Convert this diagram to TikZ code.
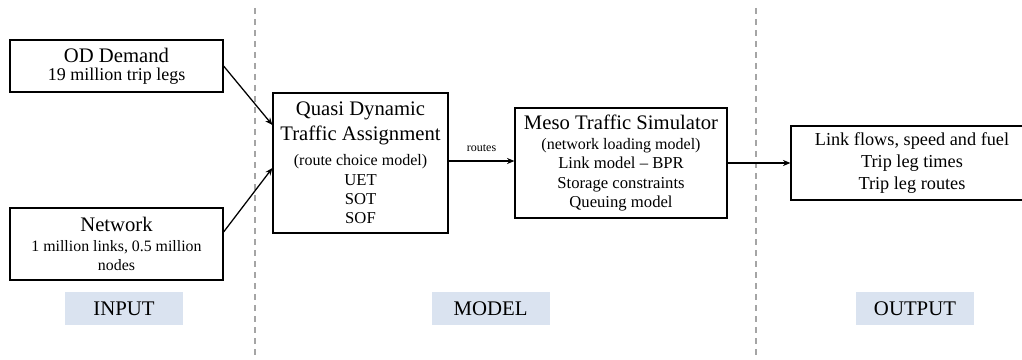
\documentclass[tikz,border=0pt]{standalone}
\usepackage{fontspec}
\setmainfont{Liberation Serif}
\usetikzlibrary{arrows.meta,calc}
\definecolor{lblbg}{RGB}{218,227,240}
\definecolor{divgray}{RGB}{165,165,165}
\newcommand\ttlfont{\fontsize{15.5}{18}\selectfont}
\newcommand\bodyfont{\fontsize{12.5}{14.5}\selectfont}
\newcommand\parfont{\fontsize{12}{14.5}\selectfont}
\newcommand\netfont{\fontsize{11.9}{14.5}\selectfont}
\begin{document}
\begin{tikzpicture}[x=0.75pt,y=-0.75pt,
  box/.style={draw=black,line width=0.9pt,fill=white,inner sep=0pt,align=center,font=\bodyfont},
  lbl/.style={fill=lblbg,inner sep=0pt,minimum width=88.5pt,minimum height=24.75pt,font=\fontsize{15.6}{18}\selectfont},
  divider/.style={draw=divgray,line width=0.9pt,dash pattern=on 4.5pt off 3.75pt},
  conn/.style={draw=black,line width=0.95pt,-{Stealth[length=5.5pt,width=4.5pt]}}]
\useasboundingbox (0,0) rectangle (1022,360);
% dividers
\coordinate (d1t) at (255,8); \coordinate (d1b) at (255,360);
\coordinate (d2t) at (756,8); \coordinate (d2b) at (756,360);
\draw[divider] (d1t) -- (d1b);
\draw[divider] (d2t) -- (d2b);
% boxes
\node[box,minimum width=159.75pt,minimum height=39pt] (od) at (116.5,66)
  {{\ttlfont OD Demand}\\[-1pt] {\fontsize{13.5}{14.5}\selectfont 19 million trip legs}};
\node[box,minimum width=159.75pt,minimum height=54pt] (net) at (116.5,244)
  {{\ttlfont Network}\\[0.5pt] {\netfont 1 million links, 0.5 million}\\ {\netfont nodes}};
\node[box,minimum width=131.25pt,minimum height=105pt] (qdta) at (360.5,163)
  {{\ttlfont Quasi Dynamic}\\[4.25pt]{\ttlfont Traffic Assignment}\\[4.25pt]{\parfont (route choice model)}\\ UET\\ SOT\\ SOF};
\node[box,minimum width=159pt,minimum height=82.5pt] (meso) at (621,163)
  {{\ttlfont Meso Traffic Simulator}\\[0.5pt]{\parfont (network loading model)}\\ Link model -- BPR\\ Storage constraints\\ Queuing model};
\node[box,minimum width=181.5pt,minimum height=55.5pt,font=\fontsize{13.7}{14.5}\selectfont] (out) at (912,163)
  {Link flows, speed and fuel\\[2pt] Trip leg times\\[2pt] Trip leg routes};
% section labels
\node[lbl] (lin) at (124,308.5) {INPUT};
\node[lbl] (lmo) at (490.5,308.5) {MODEL};
\node[lbl] (lou) at (915,308.5) {OUTPUT};
% connectors
\draw[conn] (od.east) -- ([yshift=28.5pt]qdta.west);
\draw[conn] ([yshift=9pt]net.east) -- ([yshift=-3.75pt]qdta.west);
\draw[conn] ([yshift=1.5pt]qdta.east) -- ([yshift=1.5pt]qdta.east -| meso.west)
  node[midway,anchor=base,yshift=7pt,font=\fontsize{9}{10}\selectfont] {routes};
\draw[conn] (meso.east) -- (out.west);
\end{tikzpicture}
\end{document}
